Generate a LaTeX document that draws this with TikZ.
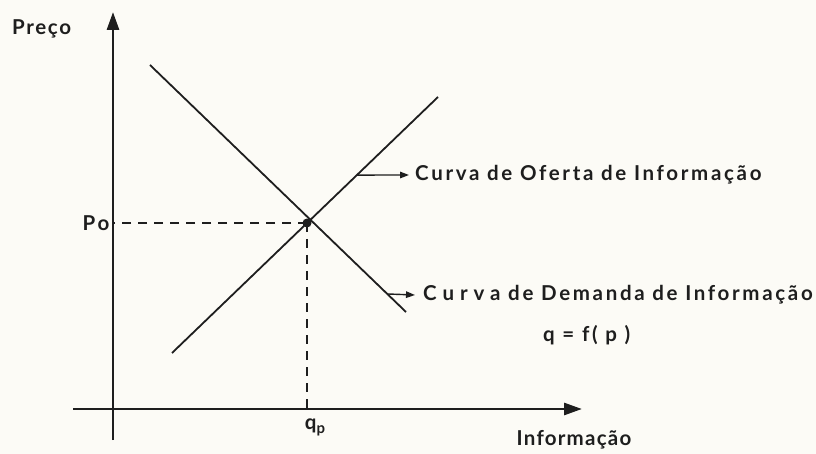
\documentclass[tikz,border=0pt]{standalone}
\usepackage{fontspec}
\setmainfont{Lato}[LetterSpace=13]
\usetikzlibrary{arrows.meta,calc}
\definecolor{ink}{HTML}{1E1E1E}
\definecolor{paper}{HTML}{FCFBF6}
\begin{document}
\begin{tikzpicture}[x=1pt,y=-1pt,
  axis/.style={ink,line width=2.8pt,-{Triangle[length=18pt,width=12pt]}},
  curve/.style={ink,line width=1.8pt},
  guide/.style={ink,line width=1.9pt,dash pattern=on 9pt off 7pt},
  pointer/.style={ink,line width=1.4pt,-{Triangle[length=9pt,width=6.5pt]}},
  lbl/.style={text=ink,font=\fontsize{20.5}{23}\selectfont\bfseries,inner sep=0pt}]
\fill[paper] (0,0) rectangle (816,454);
\useasboundingbox (0,0) rectangle (816,454);
% axes
\coordinate (ybot) at (113,440);
\coordinate (ytop) at (113,12);
\coordinate (xleft) at (73,409);
\coordinate (xright) at (582,409);
\coordinate (O) at (113,409);
\draw[axis] (ybot) -- (ytop);
\draw[axis] (xleft) -- (xright);
% curves
\coordinate (E) at (307,223);
\coordinate (D1) at (150,65);
\coordinate (D2) at (406,312);
\coordinate (S1) at (172,353);
\coordinate (S2) at (438,97);
\draw[curve] (D1) -- (D2);
\draw[curve] (S1) -- (S2);
% guides
\draw[guide] (E) -- (E -| O);
\draw[guide] (E) -- (E |- O);
\fill[ink] (E) circle (4.5pt);
% labels
\node[lbl,anchor=west] (preco) at (12,29) {\addfontfeature{LetterSpace=8}Preço};
\node[lbl,anchor=center] (po) at (96,223) {Po};
\node[lbl,anchor=center] (qp) at (315,427) {q\raisebox{-4pt}{\fontsize{15}{15}\selectfont\bfseries p}};
\node[lbl,anchor=center] (info) at (574,440) {\addfontfeature{LetterSpace=6}Informação};
\node[lbl,anchor=west] (oferta) at (415,175) {Curva de Oferta de Informação};
\node[lbl,anchor=west] (demanda) at (423,295) {{\addfontfeature{LetterSpace=29}Curva} de Demanda de Informação};
\node[lbl,anchor=west] (func) at (543,335) {q = f( p )};
% pointers
\coordinate (so) at ($(S1)!0.695!(S2)$);
\coordinate (sd) at ($(D1)!0.927!(D2)$);
\draw[pointer] (so) -- ([xshift=-6pt]oferta.west);
\draw[pointer] (sd) -- ([xshift=-8pt]demanda.west);
\end{tikzpicture}
\end{document}
